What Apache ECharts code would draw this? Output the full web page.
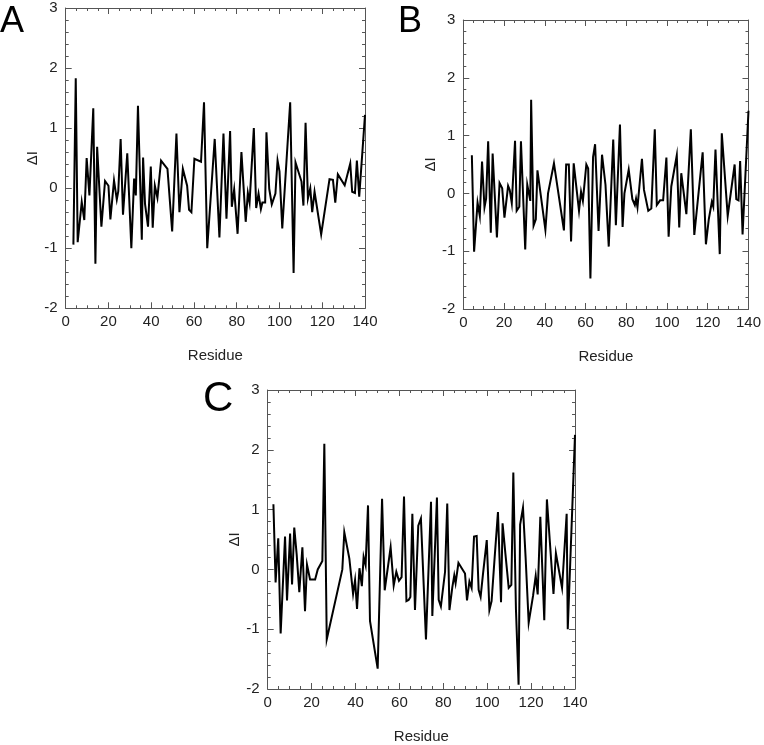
<!DOCTYPE html>
<html>
<head>
<meta charset="utf-8">
<script src="https://cdn.jsdelivr.net/npm/echarts@6/dist/echarts.min.js"></script>
<style>
html,body{margin:0;padding:0;background:#fff;}
#chart{width:764px;height:745px;}
</style>
</head>
<body>
<div id="chart"></div>
<script>
// ---- data ----
const residuesA = [3.6,4.7,5.6,7.5,8.7,9.8,11.1,12.9,13.9,14.7,16.7,18.4,20.0,20.9,22.6,23.9,24.6,25.7,26.8,28.8,30.7,32.0,32.8,33.8,35.6,36.2,37.1,38.5,39.8,40.7,41.7,42.9,44.6,47.6,49.8,51.8,53.2,54.8,56.8,57.7,58.8,60.2,63.3,64.7,66.2,69.7,71.9,73.8,75.2,76.9,77.7,78.8,80.4,82.2,84.2,85.2,86.0,88.0,89.1,90.2,91.3,92.0,93.3,93.9,95.2,96.4,98.1,99.1,100.0,101.3,105.0,106.6,107.5,110.3,111.2,112.2,113.3,114.4,115.3,116.4,119.5,123.4,125.0,126.1,127.3,130.5,133.1,134.0,135.3,136.2,137.3,140.0];
const deltaA = [-0.94,1.83,-0.9,-0.23,-0.53,0.5,-0.12,1.33,-1.26,0.69,-0.64,0.12,0.04,-0.52,0.13,-0.19,-0.05,0.82,-0.44,0.58,-1.0,0.16,-0.12,1.37,-0.86,0.51,-0.26,-0.64,0.36,-0.66,0.04,-0.16,0.46,0.32,-0.72,0.91,-0.4,0.32,0.04,-0.36,-0.4,0.49,0.44,1.43,-1.0,0.82,-0.82,0.91,-0.51,0.95,-0.31,-0.02,-0.76,0.6,-0.56,-0.08,-0.24,1.0,-0.33,-0.09,-0.35,-0.24,-0.24,0.93,-0.01,-0.27,-0.09,0.46,0.28,-0.67,1.43,-1.41,0.43,0.11,-0.29,1.09,-0.17,0.0,-0.4,-0.06,-0.77,0.15,0.14,-0.24,0.23,0.05,0.41,-0.06,-0.08,0.46,-0.14,1.22];

const residuesB = [4.2,5.3,7.0,8.1,9.2,10.4,11.2,12.2,13.5,14.4,16.5,17.8,19.1,20.2,22.0,22.8,23.8,25.4,26.2,27.5,28.3,30.4,31.4,32.9,33.3,34.5,35.6,36.4,40.3,41.6,44.5,49.4,50.5,51.8,52.9,54.2,56.8,57.8,58.7,60.4,61.3,62.4,63.7,64.7,66.4,68.1,69.8,71.4,73.6,74.9,76.9,78.2,79.1,81.2,83.0,84.2,84.8,85.5,87.7,88.7,90.8,92.3,93.2,94.0,95.0,96.6,98.1,99.7,100.8,102.1,104.8,106.0,107.0,109.5,111.7,113.4,117.5,119.1,120.5,122.0,122.7,123.8,125.9,126.9,129.8,133.2,134.0,135.1,135.9,137.1,140.0];
const deltaB = [0.66,-1.01,-0.16,-0.39,0.55,-0.24,-0.09,0.9,-0.68,0.69,-0.76,0.18,0.09,-0.42,0.13,0.06,-0.17,0.91,-0.3,-0.23,0.9,-0.97,0.15,-0.13,1.62,-0.56,-0.45,0.4,-0.63,0.0,0.52,-0.64,0.5,0.5,-0.83,0.52,-0.3,0.03,-0.13,0.5,0.43,-1.47,0.63,0.85,-0.65,0.67,0.15,-0.92,0.93,-0.55,1.19,-0.58,0.0,0.41,-0.1,-0.2,-0.09,-0.24,0.6,0.06,-0.3,-0.26,-0.24,1.11,-0.2,-0.12,-0.12,0.62,-0.75,0.12,0.66,-0.59,0.35,-0.36,1.11,-0.72,0.71,-0.88,-0.45,-0.15,-0.23,0.76,-1.05,1.04,-0.39,0.5,-0.1,-0.12,0.56,-0.71,1.43];

const residuesC = [2.6,3.6,4.8,5.9,7.9,8.8,10.2,11.1,12.1,13.2,14.4,15.8,17.0,17.9,19.3,21.6,22.8,24.9,25.8,26.9,34.0,34.9,37.2,37.9,38.9,39.8,40.7,41.8,42.9,43.7,44.6,45.7,46.6,50.1,52.1,53.3,56.0,57.4,58.6,59.8,61.0,62.1,63.2,64.2,65.0,65.9,67.1,68.6,69.8,72.1,74.4,75.0,77.1,77.9,78.9,80.8,81.8,82.8,84.1,85.0,85.6,86.9,88.4,89.9,90.8,91.9,92.9,94.0,95.2,96.1,97.0,98.1,99.8,101.0,102.0,103.4,104.9,106.3,107.0,108.3,109.8,111.0,111.9,113.1,114.3,115.0,116.3,117.5,118.9,120.9,122.1,123.0,124.2,126.0,127.2,130.2,131.3,134.1,136.2,136.7,137.6,140.0];
const deltaC = [1.09,-0.22,0.52,-1.07,0.55,-0.52,0.6,-0.25,0.7,0.25,-0.38,0.37,-0.7,0.08,-0.17,-0.17,0.0,0.14,2.1,-1.17,0.0,0.62,0.18,0.17,-0.41,-0.18,-0.66,0.02,-0.28,0.21,0.07,1.07,-0.86,-1.66,1.18,-0.35,0.37,-0.27,-0.04,-0.19,-0.13,1.22,-0.53,-0.51,-0.46,0.93,-0.68,0.73,0.85,-1.17,1.13,-0.78,1.2,-0.51,-0.62,-0.04,1.1,-0.68,-0.3,-0.1,-0.23,0.11,0.02,-0.07,-0.52,-0.2,-0.31,0.55,0.56,-0.34,-0.46,-0.07,0.49,-0.68,-0.53,0.2,0.96,-0.55,0.77,0.26,-0.31,-0.26,1.62,-0.67,-1.93,0.75,1.03,0.2,-0.89,-0.44,-0.11,-0.42,0.88,-0.85,1.17,-0.41,0.27,-0.31,0.93,-1.0,-1.0,2.25];

const panelLabels = ['A','B','C'];
const xTitle = 'Residue';
const yTitle = '\u0394I';

// ---- layout ----
const grids = [
  {left:65.7, top:8,   width:299.3, height:300.3},
  {left:463.3, top:20, width:288.4, height:289},
  {left:267.7, top:390,width:307.3, height:302.5}
];
const letterPos = [[0,4,36],[398,4,36],[203,378,42]];
const FONT = 'Liberation Sans, Arial, sans-serif';
const AX = '#555';

function xAx(g, bottom){
  return {
    type:'value', gridIndex:g, position: bottom?'bottom':'top',
    min:0, max:140, interval:20,
    name: bottom? xTitle : '', nameLocation:'middle', nameGap:40,
    nameTextStyle:{fontFamily:FONT, fontSize:15, color:'#222'},
    axisLine:{show:true, onZero:false, lineStyle:{color:AX, width:1}},
    axisTick:{show:true, inside:true, length:6, lineStyle:{color:AX}},
    minorTick:{show:true, splitNumber:4, length:3, lineStyle:{color:AX}},
    axisLabel:{show:bottom, margin:6, fontFamily:FONT, fontSize:15, color:'#222'},
    splitLine:{show:false}
  };
}
function yAx(g, left){
  return {
    type:'value', gridIndex:g, position: left?'left':'right',
    min:-2, max:3, interval:1,
    name: left? yTitle : '', nameLocation:'middle', nameGap:20,
    nameTextStyle:{fontFamily:FONT, fontSize:15, color:'#222'},
    axisLine:{show:true, onZero:false, lineStyle:{color:AX, width:1}},
    axisTick:{show:true, inside:true, length:6, lineStyle:{color:AX}},
    minorTick:{show:true, splitNumber:5, length:3, lineStyle:{color:AX}},
    axisLabel:{show:left, margin:8, fontFamily:FONT, fontSize:15, color:'#222'},
    splitLine:{show:false}
  };
}

const xAxes = [], yAxes = [];
grids.forEach((g,i)=>{ xAxes.push(xAx(i,true), xAx(i,false)); yAxes.push(yAx(i,true), yAx(i,false)); });

const sets = [[residuesA,deltaA],[residuesB,deltaB],[residuesC,deltaC]];
const series = sets.map((s,i)=>({
  type:'line', xAxisIndex:2*i, yAxisIndex:2*i,
  data: s[0].map((r,k)=>[r, s[1][k]]),
  showSymbol:false, symbol:'none', animation:false,
  lineStyle:{color:'#000', width:2, join:'miter'}
}));

const chart = echarts.init(document.getElementById('chart'), null, {renderer:'canvas'});
chart.setOption({
  backgroundColor:'#fff',
  animation:false,
  grid: grids.map(g=>Object.assign({containLabel:false}, g)),
  xAxis: xAxes,
  yAxis: yAxes,
  series: series,
  graphic: panelLabels.map((t,i)=>({
    type:'text', left:letterPos[i][0], top:letterPos[i][1],
    style:{text:t, fontFamily:FONT, fontSize:letterPos[i][2], fill:'#000'}
  }))
});
</script>
</body>
</html>
